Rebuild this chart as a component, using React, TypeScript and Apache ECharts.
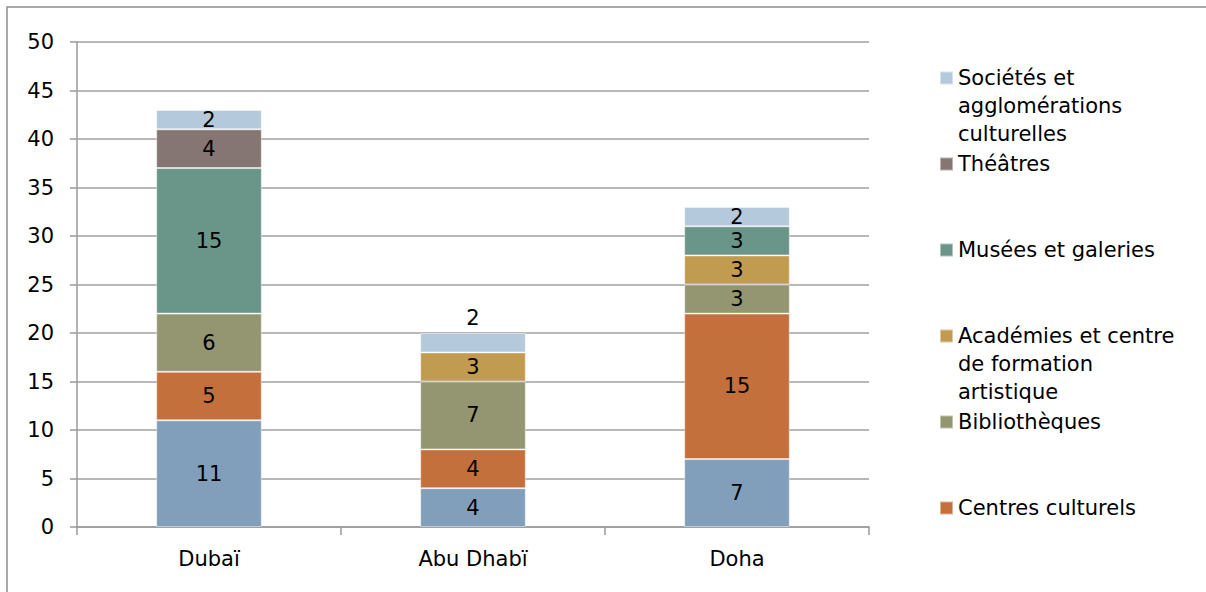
import React, { useEffect, useRef } from "react";
import * as echarts from "echarts";

const categories = ["Dubaï", "Abu Dhabï", "Doha"];

const autres = [11, 4, 7];
const centresCulturels = [5, 4, 15];
const bibliotheques = [6, 7, 3];
const academies = [null, 3, 3];
const musees = [15, null, 3];
const theatres = [4, null, null];
const societes = [2, 2, 2];

const yTicks = [0, 5, 10, 15, 20, 25, 30, 35, 40, 45, 50];

const FONT = "DejaVu Sans";
const FS = 21;
const LINE = 28;

export default function App() {
  const ref = useRef<HTMLDivElement>(null);
  useEffect(() => {
    if (!ref.current) return;
    const chart = echarts.init(ref.current, null, { renderer: "svg" });

    const mkSeries = (name: string, data: (number | null)[], color: string, special?: (v: any, i: number) => any) => ({
      name,
      type: "bar",
      stack: "total",
      barWidth: "40%",
      data: data.map((v, i) => (special ? special(v, i) : v)),
      itemStyle: { color, borderColor: "rgba(255,255,255,0.45)", borderWidth: 1 },
      label: {
        show: true,
        position: "inside",
        color: "#000",
        fontFamily: FONT,
        fontSize: FS,
        formatter: (p: any) => (p.value == null ? "" : String(p.value)),
      },
    });

    const legendItems = [
      { name: "Sociétés et agglomérations culturelles", text: "Sociétés et\nagglomérations\nculturelles" },
      { name: "Théâtres", text: "Théâtres\n \n " },
      { name: "Musées et galeries", text: "Musées et galeries\n \n " },
      { name: "Académies et centre de formation artistique", text: "Académies et centre\nde formation\nartistique" },
      { name: "Bibliothèques", text: "Bibliothèques\n \n " },
      { name: "Centres culturels", text: "Centres culturels\n \n " },
    ];
    const textMap: Record<string, string> = {};
    legendItems.forEach((l) => (textMap[l.name] = l.text));

    const H = 3 * LINE;
    const sq0 = LINE / 2 - 6.5;
    const iconPath =
      `path://M0,0h0.01v0.01h-0.01z M0,${sq0}h13v13h-13z M0,${H - 0.01}h0.01v0.01h-0.01z`;

    chart.setOption({
      animation: false,
      backgroundColor: "#fff",
      textStyle: { fontFamily: FONT },
      grid: { left: 77, right: 337, top: 42, bottom: 65 },
      graphic: [
        {
          type: "rect",
          shape: { x: 7, y: 7, width: 1400, height: 800 },
          style: { fill: "none", stroke: "#8c8c8c", lineWidth: 1.5 },
          silent: true,
        },
      ],
      legend: {
        orient: "vertical",
        left: 939,
        top: 63,
        padding: 0,
        itemWidth: 13,
        itemHeight: H,
        itemGap: 0,
        icon: iconPath,
        formatter: (n: string) => textMap[n] || n,
        textStyle: { fontFamily: FONT, fontSize: FS, color: "#000", lineHeight: LINE },
        data: legendItems.map((l) => l.name),
      },
      xAxis: {
        type: "category",
        data: categories,
        axisLine: { lineStyle: { color: "#9a9a9a", width: 1.5 } },
        axisTick: { show: true, length: 8, lineStyle: { color: "#9a9a9a", width: 1.5 } },
        axisLabel: { color: "#000", fontFamily: FONT, fontSize: FS, margin: 21 },
      },
      yAxis: {
        type: "value",
        min: yTicks[0],
        max: yTicks[yTicks.length - 1],
        interval: 5,
        axisLine: { show: true, lineStyle: { color: "#9a9a9a", width: 1.5 } },
        axisTick: { show: true, length: 7, lineStyle: { color: "#9a9a9a", width: 1.5 } },
        splitLine: { lineStyle: { color: "#a0a0a0", width: 1.5 } },
        axisLabel: { color: "#000", fontFamily: FONT, fontSize: FS, margin: 23 },
      },
      series: [
        mkSeries("Autres", autres, "#819FBA"),
        mkSeries("Centres culturels", centresCulturels, "#C4703C"),
        mkSeries("Bibliothèques", bibliotheques, "#939670"),
        mkSeries("Académies et centre de formation artistique", academies, "#C19C50"),
        mkSeries("Musées et galeries", musees, "#6A9589"),
        mkSeries("Théâtres", theatres, "#857674"),
        mkSeries("Sociétés et agglomérations culturelles", societes, "#B4CADC", (v, i) =>
          i === 1 ? { value: v, label: { position: "top", distance: 5 } } : v
        ),
      ],
    });
    return () => chart.dispose();
  }, []);
  return (
    <div
      ref={ref}
      style={{ position: "fixed", left: 0, top: 0, width: 1206, height: 592, background: "#fff" }}
    />
  );
}
